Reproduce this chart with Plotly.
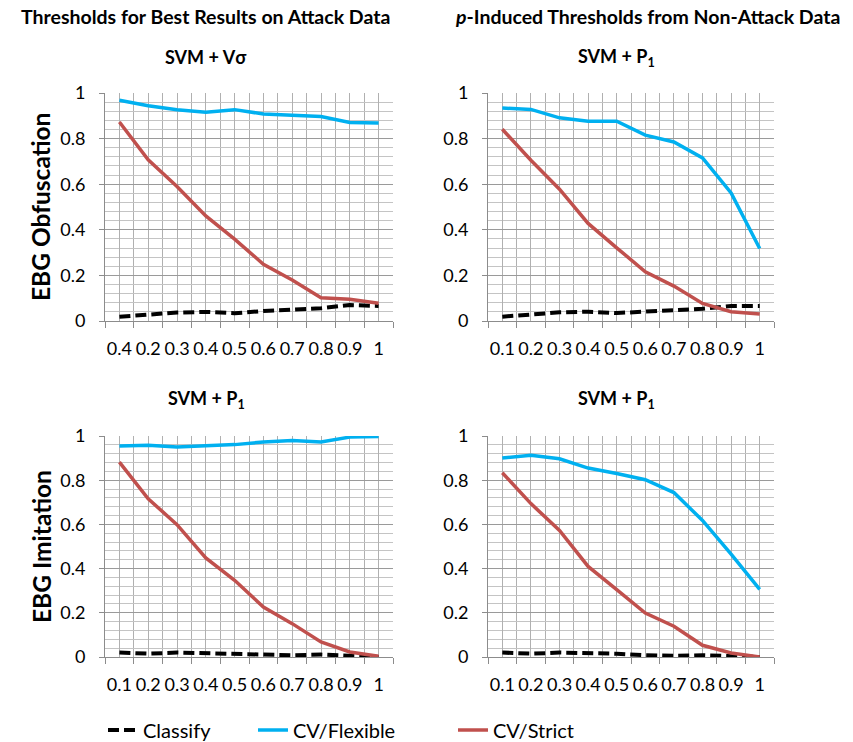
import plotly.graph_objects as go

categories = [1, 2, 3, 4, 5, 6, 7, 8, 9, 10]
ticks_tl = ["0.4", "0.2", "0.3", "0.4", "0.5", "0.6", "0.7", "0.8", "0.9", "1"]
ticks_std = ["0.1", "0.2", "0.3", "0.4", "0.5", "0.6", "0.7", "0.8", "0.9", "1"]

# Top-left: SVM + Vσ, EBG Obfuscation
tl_classify = [0.019, 0.029, 0.037, 0.040, 0.034, 0.044, 0.051, 0.056, 0.070, 0.066]
tl_flexible = [0.968, 0.944, 0.927, 0.916, 0.927, 0.908, 0.902, 0.897, 0.871, 0.868]
tl_strict = [0.873, 0.707, 0.590, 0.461, 0.359, 0.249, 0.180, 0.102, 0.095, 0.078]

# Top-right: SVM + P1, EBG Obfuscation
tr_classify = [0.019, 0.029, 0.038, 0.041, 0.035, 0.041, 0.048, 0.054, 0.066, 0.066]
tr_flexible = [0.934, 0.928, 0.891, 0.876, 0.876, 0.815, 0.785, 0.715, 0.562, 0.318]
tr_strict = [0.841, 0.705, 0.578, 0.428, 0.321, 0.216, 0.153, 0.077, 0.041, 0.031]

# Bottom-left: SVM + P1, EBG Imitation
bl_classify = [0.020, 0.015, 0.020, 0.017, 0.015, 0.011, 0.008, 0.011, 0.005, 0.000]
bl_flexible = [0.955, 0.958, 0.950, 0.955, 0.961, 0.973, 0.980, 0.973, 0.995, 0.998]
bl_strict = [0.882, 0.716, 0.599, 0.448, 0.347, 0.226, 0.151, 0.068, 0.023, 0.003]

# Bottom-right: SVM + P1, EBG Imitation
br_classify = [0.020, 0.015, 0.020, 0.018, 0.015, 0.008, 0.005, 0.008, 0.003, 0.000]
br_flexible = [0.900, 0.913, 0.897, 0.855, 0.830, 0.802, 0.744, 0.618, 0.465, 0.306]
br_strict = [0.834, 0.694, 0.573, 0.410, 0.305, 0.199, 0.139, 0.053, 0.018, 0.000]

series_names = ["Classify", "CV/Flexible", "CV/Strict"]
colors = ["#000000", "#00B0F0", "#C0504D"]
dashes = ["11px,5px", "solid", "solid"]
widths = [4, 3.5, 3.5]
legend_ids = ["legend", "legend2", "legend3"]

panels = [
    ("x", "y", [tl_classify, tl_flexible, tl_strict], ticks_tl),
    ("x2", "y2", [tr_classify, tr_flexible, tr_strict], ticks_std),
    ("x3", "y3", [bl_classify, bl_flexible, bl_strict], ticks_std),
    ("x4", "y4", [br_classify, br_flexible, br_strict], ticks_std),
]

FONT = "Lato"
W, H = 853, 742
fig = go.Figure()

for pi, (xa, ya, data, tt) in enumerate(panels):
    for si in range(3):
        fig.add_trace(go.Scatter(
            x=categories, y=data[si], mode="lines", xaxis=xa, yaxis=ya,
            name=series_names[si], legendgroup=series_names[si],
            legend=legend_ids[si],
            showlegend=(pi == 0),
            line=dict(color=colors[si], width=widths[si], dash=dashes[si]),
            cliponaxis=False,
        ))

def px_x(a, b):
    return [a / W, b / W]

def px_y(top, bottom):
    return [1 - bottom / H, 1 - top / H]

doms = [
    (px_x(105, 393), px_y(93, 321)),
    (px_x(488, 774), px_y(93, 321)),
    (px_x(105, 393), px_y(436, 657)),
    (px_x(488, 774), px_y(436, 657)),
]

def leg(xpix):
    return dict(orientation="h", x=xpix / W, y=1 - 730 / H, xanchor="left", yanchor="middle",
                font=dict(size=20, family=FONT, color="#000000"), itemwidth=30,
                bgcolor="rgba(0,0,0,0)", borderwidth=0)

layout = dict(
    width=W, height=H,
    margin=dict(l=0, r=0, t=0, b=0, autoexpand=False),
    paper_bgcolor="white", plot_bgcolor="white",
    font=dict(family=FONT, color="#000000"),
    showlegend=True,
    legend=leg(103), legend2=leg(253), legend3=leg(453),
)

for i, (dx, dy) in enumerate(doms):
    suffix = "" if i == 0 else str(i + 1)
    tt = panels[i][3]
    layout["xaxis" + suffix] = dict(
        domain=dx, anchor="y" + suffix, range=[0.5, 10.5],
        tickvals=categories, ticktext=tt, ticks="",
        showgrid=True, gridcolor="#B0B0B0", gridwidth=1,
        showline=True, linecolor="#8C8C8C", linewidth=1,
        tickfont=dict(size=18, family=FONT), ticklabelstandoff=11,
        minor=dict(tick0=0.5, dtick=1, ticks="outside", ticklen=6, tickcolor="#8C8C8C",
                   showgrid=True, gridcolor="#B0B0B0", gridwidth=1),
        zeroline=False, fixedrange=True, automargin=False,
    )
    layout["yaxis" + suffix] = dict(
        domain=dy, anchor="x" + suffix, range=[0, 1],
        tick0=0, dtick=0.2, ticks="outside", ticklen=5, tickcolor="#8C8C8C",
        showgrid=True, gridcolor="#9A9A9A", gridwidth=1,
        showline=True, linecolor="#8C8C8C", linewidth=1,
        tickfont=dict(size=18, family=FONT), ticklabelstandoff=10,
        minor=dict(dtick=0.04, showgrid=True, gridcolor="#C4C4C4", gridwidth=1),
        zeroline=False, fixedrange=True, automargin=False,
    )

fig.update_layout(**layout)

def ann(text, x, y, size, bold=True, angle=0):
    fig.add_annotation(
        text=("<b>%s</b>" % text) if bold else text,
        x=x / W, y=1 - y / H, xref="paper", yref="paper",
        showarrow=False, textangle=angle,
        font=dict(size=size, family=FONT, color="#000000"),
        xanchor="center", yanchor="middle",
    )

ann("Thresholds for Best Results on Attack Data", 205, 16, 19.5)
ann("<i>p</i>-Induced Thresholds from Non-Attack Data", 647, 16, 19.5)
ann("SVM + Vσ", 206, 57, 18)
ann("SVM + P<sub>1</sub>", 616, 57, 18)
ann("SVM + P<sub>1</sub>", 206, 400, 18)
ann("SVM + P<sub>1</sub>", 616, 400, 18)
ann("EBG Obfuscation", 41, 207, 24.5, angle=-90)
ann("EBG Imitation", 41, 547, 24.5, angle=-90)

fig.write_html("out.html")
